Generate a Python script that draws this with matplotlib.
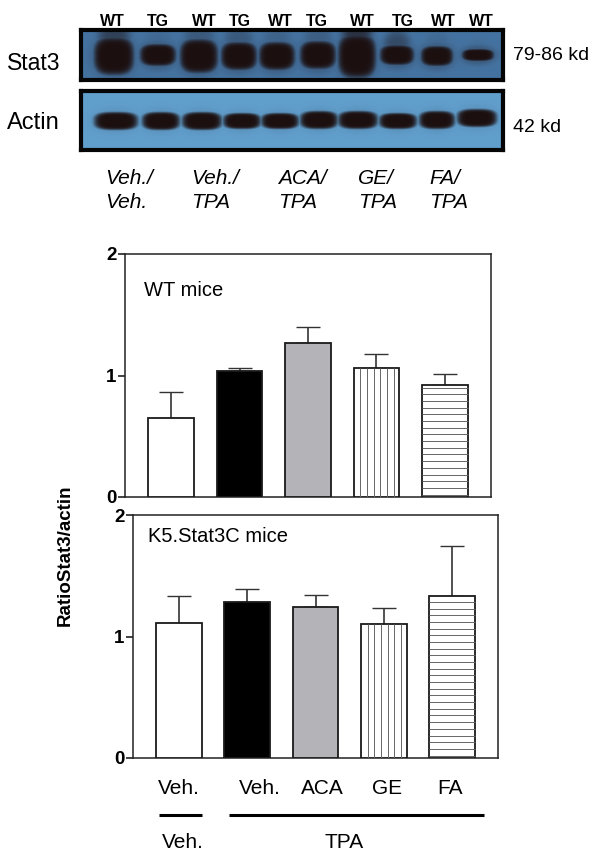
import numpy as np
import matplotlib
matplotlib.use('Agg')
import matplotlib.pyplot as plt

plt.rcParams['font.family'] = ['Liberation Sans', 'DejaVu Sans']

# western blot labels
lane_labels = ['WT', 'TG', 'WT', 'TG', 'WT', 'TG', 'WT', 'TG', 'WT', 'WT']
lane_label_x = [112, 158, 204, 240, 280, 317, 362, 403, 443, 481]
treatment_top = ['Veh./', 'Veh./', 'ACA/', 'GE/', 'FA/']
treatment_bottom = ['Veh.', 'TPA', 'TPA', 'TPA', 'TPA']
treatment_x = [105, 191, 278, 358, 429]

# band positions and sizes, in pixels of the picture
stat3_x = [114, 158, 199, 239, 277, 318, 357, 397, 437, 478]
stat3_y = [56, 55, 56, 56, 56, 55, 56, 55, 56, 55]
stat3_half_w = [20, 18, 19, 18, 18, 18, 19, 17, 16, 16]
stat3_half_h = [19, 11, 17, 14, 14, 14, 22, 10, 10, 6]
stat3_smear = [0.5, 0.1, 0.25, 0.25, 0.15, 0.2, 0.65, 0.4, 0.1, 0.05]
actin_x = [116, 161, 202, 242, 280, 319, 358, 398, 437, 477]
actin_y = [121, 121, 121, 121, 121, 120, 120, 121, 120, 118]
actin_half_w = [22, 19, 20, 19, 19, 19, 20, 19, 18, 20]
actin_half_h = [9, 9, 9, 8, 8, 9, 9, 8, 9, 9]

# bar chart values
bar_x = [1, 2, 3, 4, 5]
wt_values = [0.65, 1.04, 1.265, 1.06, 0.92]
wt_errors = [0.215, 0.02, 0.135, 0.12, 0.09]
k5_values = [1.113, 1.286, 1.245, 1.10, 1.33]
k5_errors = [0.219, 0.104, 0.093, 0.134, 0.417]


def blot_image(x0, x1, y0, y1, xs, ys, half_w, half_h, smear, bg, halo):
    xx, yy = np.meshgrid(np.arange(x0, x1) + 0.5, np.arange(y0, y1) + 0.5)
    dark = np.zeros(xx.shape)
    for x, y, w, h, s in zip(xs, ys, half_w, half_h, smear):
        # flat band with rounded ends
        d = np.abs((xx - x) / w) ** 3 + np.abs((yy - y) / h) ** 3
        dark = np.maximum(dark, np.exp(-d ** 3))
        # soft halo round the band and a smear above the strong ones
        dark = np.maximum(dark, halo * np.exp(-(((xx - x) / (w + 3)) ** 2 + ((yy - y) / (h + 4)) ** 2) ** 2))
        dark = np.maximum(dark, s * np.exp(-(((xx - x) / (w * 0.8)) ** 2 + ((yy - y + h) / (h + 5)) ** 2) ** 2))
    band = np.array([0.11, 0.06, 0.06])
    return np.array(bg)[None, None, :] * (1 - dark[..., None]) + band * dark[..., None]


def draw_blot(x0, x1, y0, y1, xs, ys, half_w, half_h, smear, bg, halo):
    ax = fig.add_axes([x0 / 600, 1 - y1 / 860, (x1 - x0) / 600, (y1 - y0) / 860], zorder=3)
    ax.imshow(blot_image(x0, x1, y0, y1, xs, ys, half_w, half_h, smear, bg, halo), aspect='auto')
    ax.set_xticks([])
    ax.set_yticks([])
    for s in ax.spines.values():
        s.set_linewidth(3.0)
        s.set_color('#050505')


def draw_bars(ax, values, errors):
    fills = ['white', 'black', '#b4b4b8', 'white', 'white']
    bars = ax.bar(bar_x, values, width=0.67, color=fills, edgecolor='#1a1a1a', linewidth=1.3, zorder=3)
    ax.errorbar(bar_x, values, yerr=[[0] * 5, errors], fmt='none', ecolor='#333333',
                elinewidth=1.2, capsize=8.5, capthick=1.0, zorder=2)
    # line fill of the last two bars
    b = bars[3]
    ax.vlines(np.arange(b.get_x() + 0.098, b.get_x() + b.get_width(), 0.098), 0, b.get_height(),
              color='#666666', linewidth=0.7, zorder=4)
    b = bars[4]
    ax.hlines(np.arange(0.02, b.get_height(), 0.055), b.get_x(), b.get_x() + b.get_width(),
              color='#666666', linewidth=0.7, zorder=4)
    ax.set_xlim(0.328, 5.672)
    ax.set_ylim(0, 2)
    ax.set_xticks([])
    ax.set_yticks([0, 1, 2])
    ax.tick_params(axis='y', length=5, width=1.2, color='#222222', labelsize=13.5, pad=1)
    for t in ax.get_yticklabels():
        t.set_fontweight('bold')
    for s in ax.spines.values():
        s.set_linewidth(1.1)
        s.set_color('#222222')


fig = plt.figure(figsize=(6, 8.6), dpi=100)

draw_blot(81, 503, 30, 80, stat3_x, stat3_y, stat3_half_w, stat3_half_h, stat3_smear, (0.27, 0.45, 0.63), 0.3)
draw_blot(81, 503, 91, 150, actin_x, actin_y, actin_half_w, actin_half_h, [0] * 10, (0.38, 0.62, 0.80), 0.1)

ax1 = fig.add_axes([125 / 600, 1 - 497 / 860, 366 / 600, 243 / 860])
draw_bars(ax1, wt_values, wt_errors)
ax2 = fig.add_axes([133 / 600, 1 - 758 / 860, 365 / 600, 243 / 860])
draw_bars(ax2, k5_values, k5_errors)

# text and the lines under the chart, in picture pixels
top = fig.add_axes([0, 0, 1, 1], zorder=1)
top.set_xlim(0, 600)
top.set_ylim(860, 0)
top.axis('off')

for x, lab in zip(lane_label_x, lane_labels):
    top.text(x, 22, lab, ha='center', va='center', fontsize=11.5, fontweight='bold')
top.text(7, 63, 'Stat3', va='center', fontsize=16.5)
top.text(7, 123, 'Actin', va='center', fontsize=17)
top.text(513, 55, '79-86 kd', va='center', fontsize=14)
top.text(513, 128, '42 kd', va='center', fontsize=14)
for x, a, b in zip(treatment_x, treatment_top, treatment_bottom):
    top.text(x, 178, a, va='center', fontsize=15, style='italic')
    top.text(x, 202, b, va='center', fontsize=15, style='italic')

top.text(144, 290, 'WT mice', va='center', fontsize=14.5)
top.text(148, 537, 'K5.Stat3C mice', va='center', fontsize=14.5)
top.text(65, 555, 'RatioStat3/actin', rotation=90, ha='center', va='center', fontsize=13.5, fontweight='bold')

for x, lab in zip([179, 260, 322, 387, 450], ['Veh.', 'Veh.', 'ACA', 'GE', 'FA']):
    top.text(x, 789, lab, ha='center', va='center', fontsize=15)
top.plot([159, 202], [815, 815], color='black', linewidth=2.2, solid_capstyle='butt')
top.plot([229, 484], [815, 815], color='black', linewidth=2.2, solid_capstyle='butt')
top.text(183, 842, 'Veh.', ha='center', va='center', fontsize=15)
top.text(344, 842, 'TPA', ha='center', va='center', fontsize=15)

fig.savefig('out.png', dpi=100)
